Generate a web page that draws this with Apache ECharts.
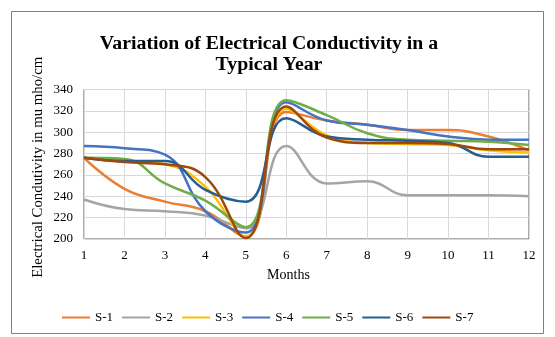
<!DOCTYPE html>
<html>
<head>
<meta charset="utf-8">
<script src="https://cdn.jsdelivr.net/npm/echarts@6/dist/echarts.min.js"></script>
<style>
html, body { margin: 0; padding: 0; background: #fff; }
#chart { width: 555px; height: 337px; }
</style>
</head>
<body>
<div id="chart"></div>
<script>
// months on the x axis
var months = ['1', '2', '3', '4', '5', '6', '7', '8', '9', '10', '11', '12'];

// EC values (mu mho/cm)
var s1 = [276, 247, 235, 226, 202, 319, 311, 307, 302, 302, 296, 283];
var s2 = [237, 228, 226, 222, 210, 287, 252, 254, 241, 241, 241, 240];
var s3 = [276, 273, 270, 249, 202, 322, 297, 290, 289, 288, 283, 281];
var s4 = [287, 285, 279, 226, 206, 328, 311, 307, 302, 296, 293, 293];
var s5 = [276, 275, 252, 236, 211, 330, 316, 299, 293, 292, 291, 288];
var s6 = [276, 273, 273, 246, 235, 313, 296, 293, 292, 290, 277, 277];
var s7 = [276, 272, 270, 258, 201, 324, 295, 290, 290, 289, 284, 284];

var names = ['S-1', 'S-2', 'S-3', 'S-4', 'S-5', 'S-6', 'S-7'];
var colors = ['#ED7D31', '#A5A5A5', '#FFC000', '#4472C4', '#70AD47', '#255E91', '#9E480E'];
var values = [s1, s2, s3, s4, s5, s6, s7];

var myChart = echarts.init(document.getElementById('chart'));

var seriesList = [];
for (var i = 0; i < names.length; i++) {
    seriesList.push({
        name: names[i],
        type: 'line',
        data: values[i],
        smooth: 0.45,
        symbol: 'none',
        lineStyle: { width: 2.5, color: colors[i] },
        itemStyle: { color: colors[i] }
    });
}

var font = 'Liberation Serif';

var option = {
    animation: false,
    textStyle: { fontFamily: font },
    title: {
        text: 'Variation of Electrical Conductivity in a\nTypical Year',
        left: 264,
        top: 28,
        textAlign: 'center',
        textStyle: { fontFamily: font, fontSize: 19.8, fontWeight: 'bold', color: '#000', lineHeight: 21 }
    },
    graphic: [{
        type: 'rect',
        shape: { x: 11.5, y: 11.5, width: 532, height: 322 },
        style: { fill: 'none', stroke: '#7f7f7f', lineWidth: 1 },
        z: -1
    }],
    legend: {
        data: names,
        left: 57,
        top: 306,
        itemWidth: 28,
        itemHeight: 2,
        itemGap: 9,
        icon: 'rect',
        textStyle: { fontFamily: font, fontSize: 13, color: '#000' }
    },
    grid: {
        left: 84,
        right: 26,
        top: 89.5,
        bottom: 98,
        show: true,
        borderColor: '#595959',
        borderWidth: 1
    },
    xAxis: {
        type: 'category',
        data: months,
        boundaryGap: false,
        name: 'Months',
        nameLocation: 'middle',
        nameGap: 29,
        nameMoveOverlap: false,
        nameTextStyle: { fontFamily: font, fontSize: 14, color: '#000', padding: [0, 36, 0, 0] },
        axisLine: { show: false },
        axisTick: { show: false },
        axisLabel: { fontFamily: font, fontSize: 13, color: '#000', margin: 10 },
        splitLine: { show: true, lineStyle: { color: '#D9D9D9' } }
    },
    yAxis: {
        type: 'value',
        min: 200,
        max: 340,
        interval: 20,
        name: 'Electrical Condutivity in mu mho/cm',
        nameLocation: 'middle',
        nameGap: 38,
        nameMoveOverlap: false,
        nameTextStyle: { fontFamily: font, fontSize: 14.8, color: '#000', padding: [0, 6, 0, 0] },
        axisLine: { show: false },
        axisTick: { show: false },
        axisLabel: { fontFamily: font, fontSize: 13, color: '#000', margin: 11 },
        splitLine: { show: true, lineStyle: { color: '#D9D9D9' } }
    },
    series: seriesList
};

myChart.setOption(option);
</script>
</body>
</html>
